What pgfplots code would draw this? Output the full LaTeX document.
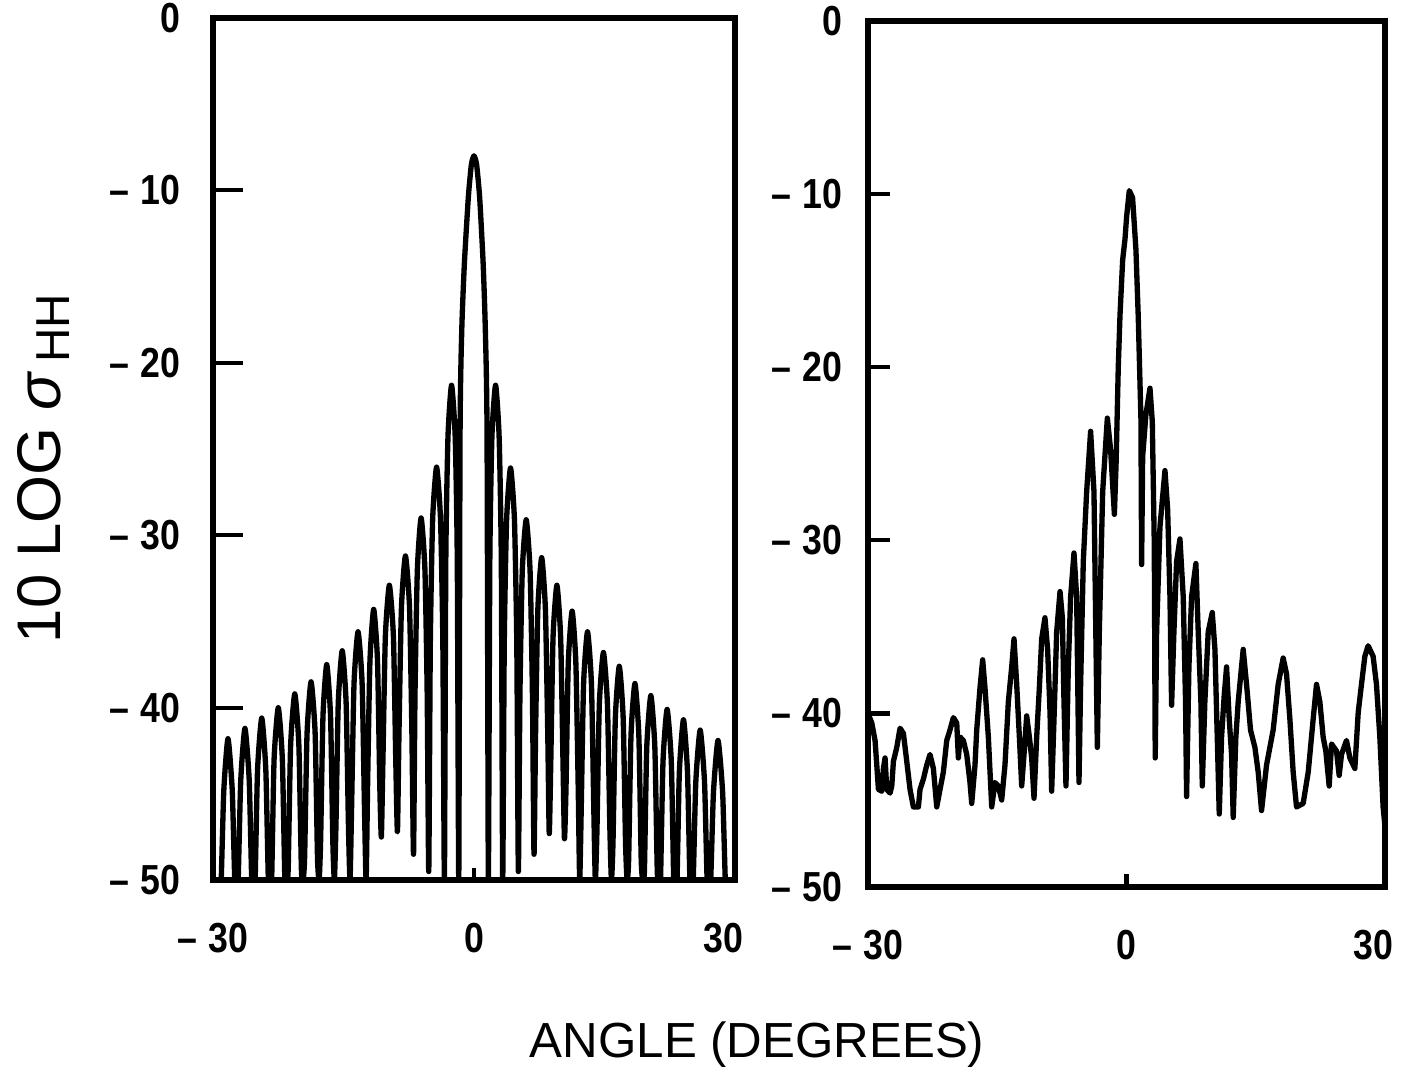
\documentclass[border=0pt]{standalone}
\usepackage{fontspec}
\setmainfont{Liberation Sans}
\newfontfamily\tickfont[FakeStretch=0.85]{Liberation Sans}
\usepackage{pgfplots}
\pgfplotsset{compat=1.18}
\pgfplotsset{
  panel/.style={
    scale only axis,
    xmin=-30, xmax=30, ymin=-50, ymax=0,
    axis line style={line width=2.1pt},
    tick align=inside, tick pos=left,
    xtick={-30,0,30},
    xticklabels={{–\hspace{4pt}30},{0},{30\hspace*{8pt}}},
    ytick={-50,-40,-30,-20,-10,0},
    yticklabels={{–\hspace{4pt}50},{–\hspace{4pt}40},{–\hspace{4pt}30},{–\hspace{4pt}20},{–\hspace{4pt}10},{0}},
    tick label style={font=\tickfont\bfseries\fontsize{15}{18}\selectfont},
    xticklabel style={yshift=-12pt},
    xtick style={line width=1.5pt, black, /pgfplots/major tick length=4.5pt},
    axis on top,
  }
}
\begin{document}
\begin{tikzpicture}
\useasboundingbox (-76.07pt,-66.4pt) rectangle (427.1pt,314.3pt);
% ---------------- left panel ----------------
\begin{axis}[panel,
  at={(0pt,0pt)}, anchor=south west,
  width=186.4pt, height=307.9pt,
  yticklabel style={xshift=-8pt},
  ytick style={line width=1.5pt, black, /pgfplots/major tick length=10.7pt},
]
\addplot[line width=1.9pt, line join=round, black, smooth, tension=0.35] coordinates {
(-30,-50) (-29.25,-50) (-29.06,-50) (-28.76,-44.8) (-28.28,-41.8) (-27.79,-44.8) (-27.5,-50) (-27.3,-50)
(-27.11,-50) (-26.81,-44.2) (-26.33,-41.2) (-25.84,-44.2) (-25.55,-50) (-25.35,-50)
(-25.16,-50) (-24.88,-43.6) (-24.40,-40.6) (-23.93,-43.6) (-23.64,-50) (-23.45,-50)
(-23.26,-50) (-22.98,-43.0) (-22.50,-40.0) (-22.03,-43.0) (-21.74,-50) (-21.55,-50)
(-21.36,-49.4) (-21.08,-42.2) (-20.60,-39.2) (-20.13,-42.2) (-19.84,-49.4) (-19.65,-50)
(-19.47,-48.7) (-19.19,-41.5) (-18.73,-38.5) (-18.26,-41.5) (-17.99,-48.7) (-17.80,-50)
(-17.63,-47.7) (-17.36,-40.5) (-16.93,-37.5) (-16.49,-40.5) (-16.23,-47.7) (-16.05,-50)
(-15.87,-46.9) (-15.60,-39.7) (-15.15,-36.7) (-14.70,-39.7) (-14.43,-46.9) (-14.25,-50)
(-14.07,-45.8) (-13.79,-38.6) (-13.33,-35.6) (-12.86,-38.6) (-12.59,-45.8) (-12.40,-50)
(-12.23,-44.5) (-11.96,-37.3) (-11.53,-34.3) (-11.09,-37.3) (-10.83,-44.5) (-10.65,-47.5)
(-10.47,-43.1) (-10.19,-35.9) (-9.73,-32.9) (-9.26,-35.9) (-8.99,-43.1) (-8.80,-47.2)
(-8.62,-41.4) (-8.34,-34.2) (-7.88,-31.2) (-7.41,-34.2) (-7.14,-41.4) (-6.95,-48.5)
(-6.78,-39.2) (-6.51,-32.0) (-6.08,-29.0) (-5.64,-32.0) (-5.38,-39.2) (-5.20,-49.5)
(-5.02,-36.25) (-4.75,-29.05) (-4.30,-26.05) (-3.85,-29.05) (-3.58,-36.25) (-3.40,-50)
(-3.24,-31.5) (-2.99,-24.3) (-2.58,-21.3) (-2.16,-24.3) (-1.92,-31.5) (-1.75,-50)
(-1.60,-24) (-1.40,-18) (-1.10,-14.2) (-0.65,-10.4) (-0.30,-8.5) (0,-8) (0.30,-8.5) (0.65,-10.4) (1.05,-14.2) (1.30,-18) (1.50,-24) (1.65,-50)
(1.82,-31.5) (2.06,-24.3) (2.48,-21.3) (2.89,-24.3) (3.14,-31.5) (3.30,-50)
(3.48,-36.3) (3.75,-29.1) (4.20,-26.1) (4.65,-29.1) (4.92,-36.3) (5.10,-49.5)
(5.28,-39.3) (5.55,-32.1) (6.00,-29.1) (6.45,-32.1) (6.72,-39.3) (6.90,-48.5)
(7.08,-41.5) (7.34,-34.3) (7.78,-31.3) (8.21,-34.3) (8.48,-41.5) (8.65,-47.3)
(8.83,-43.1) (9.09,-35.9) (9.53,-32.9) (9.96,-35.9) (10.23,-43.1) (10.40,-47.6)
(10.58,-44.6) (10.84,-37.4) (11.28,-34.4) (11.71,-37.4) (11.98,-44.6) (12.15,-50)
(12.33,-45.8) (12.60,-38.6) (13.05,-35.6) (13.50,-38.6) (13.77,-45.8) (13.95,-50)
(14.14,-47.0) (14.41,-39.8) (14.88,-36.8) (15.34,-39.8) (15.62,-47.0) (15.80,-50)
(15.98,-47.8) (16.25,-40.6) (16.70,-37.6) (17.15,-40.6) (17.42,-47.8) (17.60,-50)
(17.78,-48.8) (18.05,-41.6) (18.50,-38.6) (18.95,-41.6) (19.22,-48.8) (19.40,-50)
(19.59,-49.5) (19.86,-42.3) (20.33,-39.3) (20.79,-42.3) (21.07,-49.5) (21.25,-50)
(21.44,-50) (21.73,-43.1) (22.20,-40.1) (22.68,-43.1) (22.96,-50) (23.15,-50)
(23.34,-50) (23.61,-43.7) (24.08,-40.7) (24.54,-43.7) (24.82,-50) (25.00,-50)
(25.20,-50) (25.50,-44.3) (26.00,-41.3) (26.50,-44.3) (26.80,-50) (27.00,-50)
(27.21,-50) (27.53,-44.9) (28.05,-41.9) (28.58,-44.9) (28.89,-50) (29.10,-50)
(30,-50)
};
\end{axis}
% ---------------- right panel ----------------
\begin{axis}[panel,
  at={(233.9pt,-2.3pt)}, anchor=south west,
  width=184.6pt, height=309.1pt,
  yticklabel style={xshift=-5.5pt},
  ytick style={line width=1.5pt, black, /pgfplots/major tick length=7.9pt},
]
\addplot[line width=1.9pt, line join=round, black] coordinates {
(-30.0,-40.0) (-29.56,-40.55) (-29.18,-41.56) (-28.98,-42.98) (-28.79,-44.39) (-28.40,-44.49)
(-28.21,-43.18) (-28.02,-42.57) (-27.82,-44.39) (-27.44,-44.60) (-27.24,-44.19) (-27.05,-42.77)
(-26.66,-41.96) (-26.28,-40.85) (-25.89,-41.15) (-25.50,-42.77) (-25.12,-44.39) (-24.73,-45.40)
(-24.15,-45.40) (-23.96,-44.39) (-23.57,-43.79) (-23.18,-42.98) (-22.80,-42.37) (-22.41,-43.18)
(-22.02,-45.40) (-21.64,-44.39) (-21.25,-43.38) (-20.86,-41.56) (-20.48,-40.95) (-20.09,-40.24)
(-19.70,-40.55) (-19.51,-42.57) (-19.32,-41.36) (-18.93,-41.56) (-18.54,-42.37) (-18.16,-43.99)
(-17.96,-45.20) (-17.58,-42.98) (-17.38,-40.95) (-17.00,-38.52) (-16.69,-36.90) (-16.42,-38.52)
(-16.03,-41.36) (-15.64,-45.40) (-15.26,-43.99) (-14.87,-44.19) (-14.48,-45.00) (-14.10,-42.98)
(-13.71,-39.33) (-13.32,-37.31) (-13.05,-35.69) (-12.74,-38.32) (-12.43,-41.36) (-12.16,-44.19)
(-11.89,-42.37) (-11.58,-40.14) (-11.27,-41.36) (-11.00,-42.57) (-10.73,-44.90) (-10.42,-41.36)
(-10.11,-38.52) (-9.84,-35.69) (-9.46,-34.47) (-9.15,-36.30) (-8.87,-39.94) (-8.68,-44.49)
(-8.41,-40.34) (-8.10,-35.28) (-7.71,-32.96) (-7.44,-34.47) (-7.25,-39.33) (-7.02,-44.19)
(-6.75,-37.31) (-6.48,-33.26) (-6.09,-30.73) (-5.78,-33.26) (-5.51,-43.99) (-5.32,-38.32)
(-5.01,-31.23) (-4.62,-27.19) (-4.16,-23.70) (-3.77,-27.19) (-3.38,-41.96) (-3.15,-35.28)
(-2.76,-27.19) (-2.22,-22.94) (-1.84,-24.76) (-1.40,-28.5) (-1.20,-25.5) (-0.95,-20.0)
(-0.75,-17.0) (-0.44,-13.8) (-0.17,-12.6) (0.02,-11.3) (0.33,-9.8) (0.71,-10.2)
(1.10,-13.2) (1.37,-17.1) (1.57,-20.9) (1.68,-23.0) (1.76,-31.4) (1.88,-25.16)
(2.26,-22.73) (2.73,-21.21) (3.00,-23.14) (3.23,-30.22) (3.34,-42.57) (3.50,-35.28)
(3.89,-29.21) (4.47,-25.97) (4.78,-28.20) (5.05,-33.26) (5.24,-39.53) (5.51,-35.28)
(5.82,-31.23) (6.21,-29.92) (6.59,-33.26) (6.86,-39.33) (6.98,-44.80) (7.25,-37.31)
(7.56,-33.26) (8.06,-31.34) (8.33,-35.28) (8.64,-39.33) (8.80,-44.19) (9.10,-39.33)
(9.49,-35.28) (9.96,-34.17) (10.27,-36.30) (10.54,-41.36) (10.77,-45.81) (11.04,-41.36)
(11.35,-38.93) (11.62,-37.31) (11.93,-40.34) (12.20,-42.37) (12.39,-46.01) (12.70,-41.36)
(12.97,-39.33) (13.55,-36.30) (13.94,-38.32) (14.40,-40.95) (14.91,-41.96) (15.29,-43.38)
(15.68,-45.61) (16.26,-42.98) (17.03,-40.95) (17.61,-38.32) (18.19,-36.80) (18.58,-37.71)
(18.97,-40.34) (19.35,-43.38) (19.74,-45.40) (20.51,-45.20) (21.10,-43.38) (21.67,-40.34)
(22.06,-38.32) (22.45,-39.33) (22.83,-41.36) (23.14,-42.17) (23.53,-44.19) (23.80,-41.76)
(24.38,-42.17) (24.69,-43.58) (24.96,-42.37) (25.54,-41.56) (25.93,-42.57) (26.51,-43.18)
(26.90,-39.94) (27.28,-38.32) (27.67,-36.70) (28.05,-36.09) (28.63,-36.70) (29.02,-38.32)
(29.41,-41.36) (29.79,-45.40) (30.0,-46.5)
};
\end{axis}
% ---------------- shared labels ----------------
\node[rotate=90, font=\fontsize{22}{26}\selectfont] at (-60.5pt,147pt)
  {10 LOG \textit{σ}\hspace{3pt}\raisebox{-0.3ex}{\fontsize{17}{20}\selectfont HH}};
\node[font=\fontsize{17.6}{20}\selectfont] at (194.3pt,-58.9pt) {ANGLE (DEGREES)};
\end{tikzpicture}
\end{document}
